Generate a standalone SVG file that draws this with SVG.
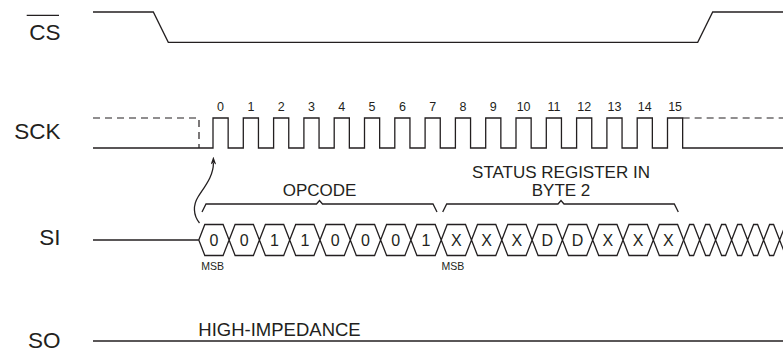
<svg xmlns="http://www.w3.org/2000/svg" width="783" height="351" viewBox="0 0 783 351">
<style>
.w{fill:none;stroke:#231f20;stroke-width:1.3;stroke-linejoin:miter}
.d{fill:none;stroke:#231f20;stroke-width:1.2;stroke-dasharray:7 5}
.lbl{font-family:"Liberation Sans",Arial,sans-serif;font-size:22.5px;fill:#231f20;text-anchor:end}
.t{font-family:"Liberation Sans",Arial,sans-serif;font-size:17px;fill:#231f20}
.n{font-family:"Liberation Sans",Arial,sans-serif;font-size:12.5px;fill:#231f20;text-anchor:middle}
.b{font-family:"Liberation Sans",Arial,sans-serif;font-size:16px;fill:#231f20;text-anchor:middle}
.m{font-family:"Liberation Sans",Arial,sans-serif;font-size:10.5px;fill:#231f20}
.hx{fill:none;stroke:#231f20;stroke-width:1.3;stroke-linejoin:miter}
</style>
<defs>
<marker id="ah" viewBox="0 0 10 7" refX="2" refY="3.5" markerWidth="8" markerHeight="5.6" markerUnits="userSpaceOnUse" orient="auto">
<path d="M0,0 L10,3.5 L0,7 L2.5,3.5 z" fill="#231f20"/>
</marker>
</defs>

<g id="cs">
<text class="lbl" x="60.5" y="40">CS</text>
<line x1="26.7" y1="15.3" x2="59" y2="15.3" stroke="#231f20" stroke-width="1.3"/>
<path class="w" d="M93,12 H153.3 L168.3,42.3 H697.7 L712.7,12 H783"/>
</g>

<g id="sck">
<text class="lbl" x="60.5" y="139.3">SCK</text>
<path class="d" d="M93,118 H199 V148"/>
<path class="d" d="M682.65,118 H783"/>
<path class="w" d="M93,148 H213 V118 H228.15 V148 H243.3 V118 H258.45 V148 H273.6 V118 H288.75 V148 H303.9 V118 H319.05 V148 H334.2 V118 H349.35 V148 H364.5 V118 H379.65 V148 H394.8 V118 H409.95 V148 H425.1 V118 H440.25 V148 H455.4 V118 H470.55 V148 H485.7 V118 H500.85 V148 H516 V118 H531.15 V148 H546.3 V118 H561.45 V148 H576.6 V118 H591.75 V148 H606.9 V118 H622.05 V148 H637.2 V118 H652.35 V148 H667.5 V118 H682.65 V148 H783"/>
<text class="n" x="220.6" y="110.5">0</text>
<text class="n" x="250.9" y="110.5">1</text>
<text class="n" x="281.2" y="110.5">2</text>
<text class="n" x="311.5" y="110.5">3</text>
<text class="n" x="341.8" y="110.5">4</text>
<text class="n" x="372.1" y="110.5">5</text>
<text class="n" x="402.4" y="110.5">6</text>
<text class="n" x="432.7" y="110.5">7</text>
<text class="n" x="463" y="110.5">8</text>
<text class="n" x="493.3" y="110.5">9</text>
<text class="n" x="523.6" y="110.5">10</text>
<text class="n" x="553.9" y="110.5">11</text>
<text class="n" x="584.2" y="110.5">12</text>
<text class="n" x="614.5" y="110.5">13</text>
<text class="n" x="644.8" y="110.5">14</text>
<text class="n" x="675.1" y="110.5">15</text>
</g>

<g id="si">
<text class="lbl" x="60.5" y="245">SI</text>
<path class="w" d="M93,240 H198.8"/>
<path class="hx" d="M198.8,240 L204.8,224.5 H223.1 L229.1,240 L223.1,255.5 H204.8 Z
M229.1,240 L235.1,224.5 H253.4 L259.4,240 L253.4,255.5 H235.1 Z
M259.4,240 L265.4,224.5 H283.7 L289.7,240 L283.7,255.5 H265.4 Z
M289.7,240 L295.7,224.5 H314 L320,240 L314,255.5 H295.7 Z
M320,240 L326,224.5 H344.3 L350.3,240 L344.3,255.5 H326 Z
M350.3,240 L356.3,224.5 H374.6 L380.6,240 L374.6,255.5 H356.3 Z
M380.6,240 L386.6,224.5 H404.9 L410.9,240 L404.9,255.5 H386.6 Z
M410.9,240 L416.9,224.5 H435.2 L441.2,240 L435.2,255.5 H416.9 Z
M441.2,240 L447.2,224.5 H465.5 L471.5,240 L465.5,255.5 H447.2 Z
M471.5,240 L477.5,224.5 H495.8 L501.8,240 L495.8,255.5 H477.5 Z
M501.8,240 L507.8,224.5 H526.1 L532.1,240 L526.1,255.5 H507.8 Z
M532.1,240 L538.1,224.5 H556.4 L562.4,240 L556.4,255.5 H538.1 Z
M562.4,240 L568.4,224.5 H586.7 L592.7,240 L586.7,255.5 H568.4 Z
M592.7,240 L598.7,224.5 H617 L623,240 L617,255.5 H598.7 Z
M623,240 L629,224.5 H647.3 L653.3,240 L647.3,255.5 H629 Z
M653.3,240 L659.3,224.5 H677.6 L683.6,240 L677.6,255.5 H659.3 Z"/>
<path class="hx" d="M683.6,240 L689.6,224.5 H693.6 L699.6,240 L693.6,255.5 H689.6 Z
M699.6,240 L705.6,224.5 H709.6 L715.6,240 L709.6,255.5 H705.6 Z
M715.6,240 L721.6,224.5 H725.6 L731.6,240 L725.6,255.5 H721.6 Z
M731.6,240 L737.6,224.5 H741.6 L747.6,240 L741.6,255.5 H737.6 Z
M747.6,240 L753.6,224.5 H757.6 L763.6,240 L757.6,255.5 H753.6 Z
M763.6,240 L769.6,224.5 H773.6 L779.6,240 L773.6,255.5 H769.6 Z
M779.6,240 L785.6,224.5 H789.6 L795.6,240 L789.6,255.5 H785.6 Z"/>
<text class="b" x="213.95" y="245.7">0</text>
<text class="b" x="244.25" y="245.7">0</text>
<text class="b" x="274.55" y="245.7">1</text>
<text class="b" x="304.85" y="245.7">1</text>
<text class="b" x="335.15" y="245.7">0</text>
<text class="b" x="365.45" y="245.7">0</text>
<text class="b" x="395.75" y="245.7">0</text>
<text class="b" x="426.05" y="245.7">1</text>
<text class="b" x="456.35" y="245.7">X</text>
<text class="b" x="486.65" y="245.7">X</text>
<text class="b" x="516.95" y="245.7">X</text>
<text class="b" x="547.25" y="245.7">D</text>
<text class="b" x="577.55" y="245.7">D</text>
<text class="b" x="607.85" y="245.7">X</text>
<text class="b" x="638.15" y="245.7">X</text>
<text class="b" x="668.45" y="245.7">X</text>
<text class="m" x="201.2" y="269.7">MSB</text>
<text class="m" x="441.4" y="269.7">MSB</text>
</g>

<g id="opcode">
<path class="w" d="M202,212 L206,204 H316.5 L319.5,200.5 L322.5,204 H433 L437,212"/>
<text class="t" x="319.5" y="196" text-anchor="middle">OPCODE</text>
</g>

<g id="status">
<path class="w" d="M442.7,212 L446.7,204 H558 L561,200.5 L564,204 H674.3 L678.3,212"/>
<text class="t" x="561" y="177.5" text-anchor="middle">STATUS REGISTER IN</text>
<text class="t" x="561" y="196" text-anchor="middle">BYTE 2</text>
</g>

<g id="so">
<text class="lbl" x="60.5" y="347.5">SO</text>
<path class="w" d="M93,341 H783"/>
<text class="t" x="198.3" y="335.5" style="font-size:18.5px">HIGH-IMPEDANCE</text>
</g>

<g id="connectors">
<path class="w" d="M199.5,223 C193,215 193,205 198,197 C205,186 213.5,176 213.4,163" marker-end="url(#ah)"/>
</g>
</svg>
